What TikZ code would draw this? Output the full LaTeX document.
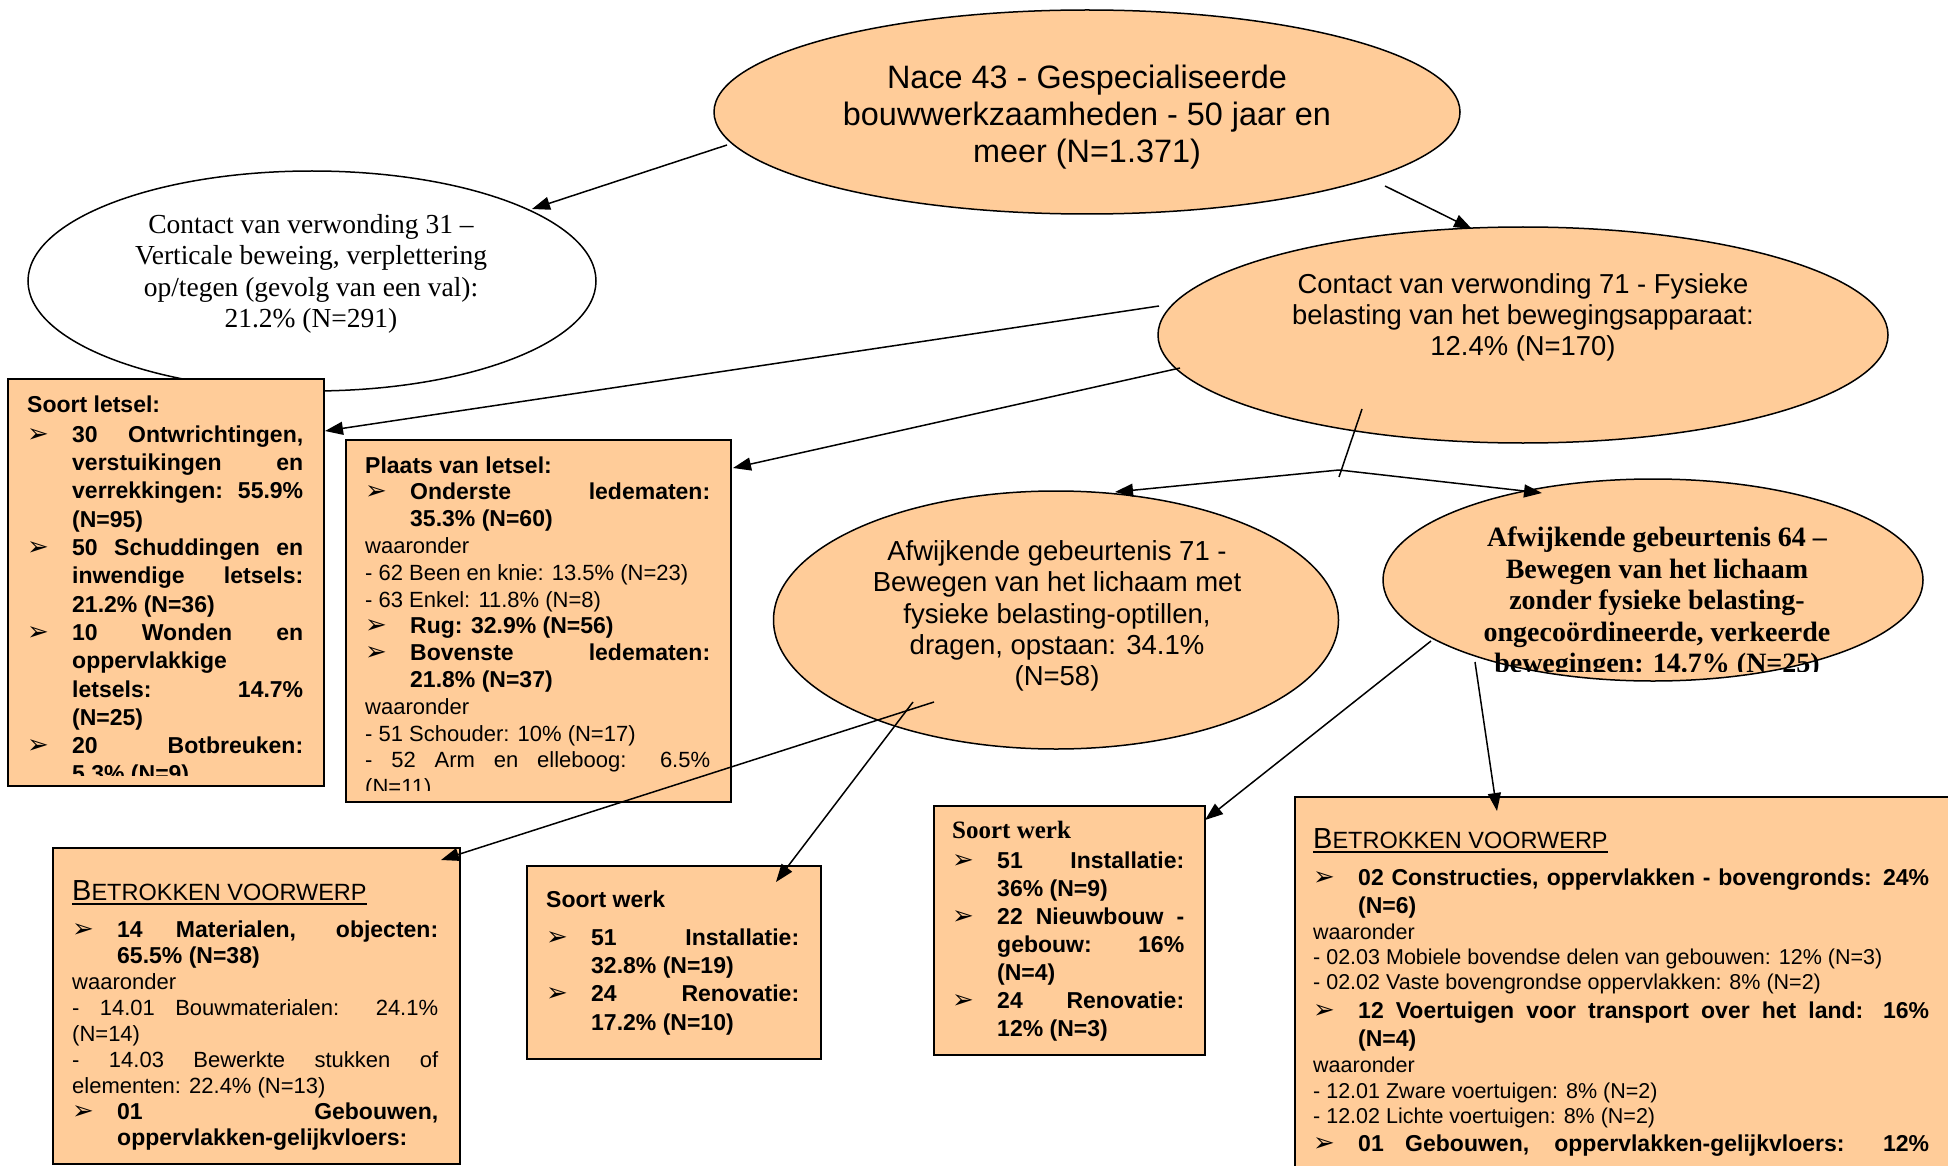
\documentclass[tikz,border=0pt]{standalone}
\usepackage{fontspec}
\setmainfont{Liberation Sans}
\newfontfamily\tms{Liberation Serif}
\newfontfamily\dvs{DejaVu Sans}
\usetikzlibrary{shapes.geometric,arrows.meta}
\definecolor{peach}{HTML}{FFCC99}
\newlength\bind
\setlength\bind{45pt}
\newcommand\bulx{{\dvs\mdseries\fontsize{26}{26}\selectfont ➢}}
\newcommand\xBJ[1]{\hbox to\hsize{\hbox to\bind{\bulx\hfil}#1}}
\newcommand\xBR[1]{\hbox to\hsize{\hbox to\bind{\bulx\hfil}#1\hfil}}
\newcommand\xIJ[1]{\hbox to\hsize{\hskip\bind\relax #1}}
\newcommand\xIR[1]{\hbox to\hsize{\hskip\bind\relax #1\hfil}}
\newcommand\xPJ[1]{\hbox to\hsize{#1}}
\newcommand\xPR[1]{\hbox to\hsize{#1\hfil}}
\newcommand\fBb{\fontsize{23}{23}\bfseries\selectfont}
\newcommand\fRr{\fontsize{22}{22}\mdseries\selectfont}
\newcommand\fRs{\fontsize{21.5}{21.5}\mdseries\selectfont}
\newcommand\mkblk[2]{\vtop{\hsize=#1\relax\lineskiplimit=-\maxdimen\lineskip=0pt #2}}
\newcommand\betrv{\setbox0=\hbox{\mdseries{\fontsize{29}{29}\selectfont B}{\fontsize{23.5}{23.5}\selectfont ETROKKEN VOORWERP}}\rlap{\vrule height -3pt depth 4.5pt width \wd0}\box0}
\tikzset{
  ell/.style={ellipse, draw, line width=1.5pt, fill=peach, inner sep=0pt},
  bx/.style={rectangle, draw, line width=1.5pt, fill=peach, anchor=north west, inner sep=0pt},
  txt/.style={anchor=base west, inner sep=0pt},
  conn/.style={line width=1.5pt, -{Triangle[length=18pt,width=13pt]}},
  plain/.style={line width=1.5pt}
}
\begin{document}
\begin{tikzpicture}[x=1pt,y=-1pt]
\useasboundingbox (0,0) rectangle (1948,1166);
% ellipses
\node[ell, fill=white, minimum width=568pt, minimum height=220pt] (e31) at (312,281) {};
\node[ell, minimum width=746pt, minimum height=204pt] (enace) at (1087,112) {};
\node[ell, minimum width=730pt, minimum height=216pt] (e71) at (1523,335) {};
\node[ell, minimum width=565pt, minimum height=258pt] (a71) at (1056,620) {};
\node[ell, minimum width=540pt, minimum height=202pt] (a64) at (1653,580) {};
% ellipse texts
\node[align=center, font={\fontsize{32.4}{37}\selectfont}] (tnace) at (1087,117) {Nace 43 - Gespecialiseerde\\bouwwerkzaamheden - 50 jaar en\\meer (N=1.371)};
\node[align=center, font={\tms\fontsize{27.5}{31.4}\selectfont}] (t31) at (311,274) {Contact van verwonding 31 –\\Verticale beweing, verplettering\\op/tegen (gevolg van een val):\\21.2\% (N=291)};
\node[align=center, font={\fontsize{27.4}{31}\selectfont}] (t71) at (1523,317) {Contact van verwonding 71 - Fysieke\\belasting van het bewegingsapparaat:\\12.4\% (N=170)};
\node[align=center, font={\fontsize{27.5}{31.4}\selectfont}] (ta71) at (1057,616) {Afwijkende gebeurtenis 71 -\\Bewegen van het lichaam met\\fysieke belasting-optillen,\\dragen, opstaan: 34.1\%\\(N=58)};
\begin{scope}
\clip (1380,500) rectangle (1930,671);
\node[align=center, font={\tms\bfseries\fontsize{28}{31.4}\selectfont}] (ta64) at (1657,603) {Afwijkende gebeurtenis 64 –\\Bewegen van het lichaam\\zonder fysieke belasting-\\ongecoördineerde, verkeerde\\bewegingen: 14.7\% (N=25)};
\end{scope}
% boxes
\node[bx, minimum width=316pt, minimum height=407pt] (sl) at (7,378) {};
\node[bx, minimum width=385pt, minimum height=362pt] (pl) at (345,439) {};
\node[bx, minimum width=407pt, minimum height=316pt] (bvl) at (52,847) {};
\node[bx, minimum width=294pt, minimum height=193pt] (swm) at (526,865) {};
\node[bx, minimum width=271pt, minimum height=249pt] (swr) at (933,805) {};
\node[bx, minimum width=680pt, minimum height=400pt] (bvr) at (1294,796) {};
% box texts
\begin{scope}
\clip (7,378) rectangle (323,775);
\node[txt] (slt) at (27,412) {\fBb\mkblk{276pt}{\baselineskip=28.3pt
\xPR{Soort letsel:}\vskip2pt
\xBJ{30 Ontwrichtingen,}
\xIJ{verstuikingen en}
\xIJ{verrekkingen: 55.9\%}
\xIR{(N=95)}
\xBJ{50 Schuddingen en}
\xIJ{inwendige letsels:}
\xIR{21.2\% (N=36)}
\xBJ{10 Wonden en}
\xIR{oppervlakkige}
\xIJ{letsels: 14.7\%}
\xIR{(N=25)}
\xBJ{20 Botbreuken:}
\xIR{5.3\% (N=9)}}};
\end{scope}
\begin{scope}
\clip (345,439) rectangle (730,790);
\node[txt] (plt) at (365,473) {\fBb\mkblk{345pt}{\baselineskip=26.8pt
\xPR{\fBb Plaats van letsel:}
\xBJ{\fBb Onderste ledematen:}
\xIR{\fBb 35.3\% (N=60)}
\xPR{\fRr waaronder}
\xPR{\fRr - 62 Been en knie: 13.5\% (N=23)}
\xPR{\fRr - 63 Enkel: 11.8\% (N=8)}
\xBR{\fBb Rug: 32.9\% (N=56)}
\xBJ{\fBb Bovenste ledematen:}
\xIR{\fBb 21.8\% (N=37)}
\xPR{\fRr waaronder}
\xPR{\fRr - 51 Schouder: 10\% (N=17)}
\xPJ{\fRr - 52 Arm en elleboog: 6.5\%}
\xPR{\fRr (N=11)}}};
\end{scope}
\node[txt] (bvlt) at (72,900) {\fBb\mkblk{366pt}{\baselineskip=26pt
\xPR{\betrv}\vskip11pt
\xBJ{\fBb 14 Materialen, objecten:}
\xIR{\fBb 65.5\% (N=38)}
\xPR{\fRr waaronder}
\xPJ{\fRr - 14.01 Bouwmaterialen: 24.1\%}
\xPR{\fRr (N=14)}
\xPJ{\fRr - 14.03 Bewerkte stukken of}
\xPR{\fRr elementen: 22.4\% (N=13)}
\xBJ{\fBb 01 Gebouwen,}
\xIR{\fBb oppervlakken-gelijkvloers:}}};
\node[txt] (swmt) at (546,907) {\fBb\mkblk{253pt}{\baselineskip=28.3pt
\xPR{Soort werk}\vskip10pt
\xBJ{51 Installatie:}
\xIR{32.8\% (N=19)}
\xBJ{24 Renovatie:}
\xIR{17.2\% (N=10)}}};
\node[txt] (swrt) at (952,838) {\fBb\mkblk{232pt}{\baselineskip=28pt
\xPR{\tms\bfseries\fontsize{25}{25}\selectfont Soort werk}\vskip2pt
\xBJ{51 Installatie:}
\xIR{36\% (N=9)}
\xBJ{22 Nieuwbouw -}
\xIJ{gebouw: 16\%}
\xIR{(N=4)}
\xBJ{24 Renovatie:}
\xIR{12\% (N=3)}}};
\node[txt] (bvrt) at (1313,848) {\fBb\mkblk{616pt}{\baselineskip=26pt
\xPR{\betrv}
\baselineskip=37pt \xBJ{\fBb 02 Constructies, oppervlakken - bovengronds: 24\%}
\baselineskip=28pt \xIR{\fBb (N=6)}
\baselineskip=26pt \xPR{\fRs waaronder}
\baselineskip=25pt \xPR{\fRs - 02.03 Mobiele bovendse delen van gebouwen: 12\% (N=3)}
\xPR{\fRs - 02.02 Vaste bovengrondse oppervlakken: 8\% (N=2)}
\baselineskip=29pt \xBJ{\fBb 12 Voertuigen voor transport over het land: 16\%}
\baselineskip=28pt \xIR{\fBb (N=4)}
\baselineskip=26pt \xPR{\fRs waaronder}
\xPR{\fRs - 12.01 Zware voertuigen: 8\% (N=2)}
\baselineskip=25pt \xPR{\fRs - 12.02 Lichte voertuigen: 8\% (N=2)}
\baselineskip=28pt \xBJ{\fBb 01 Gebouwen, oppervlakken-gelijkvloers: 12\%}}};
% connector end points
\coordinate (p1) at (727,145);   \coordinate (q1) at (532,209);
\coordinate (p2) at (1385,186);  \coordinate (q2) at (1472,229);
\coordinate (p3) at (1159,306);  \coordinate (q3) at (325,431);
\coordinate (p4) at (1180,368);  \coordinate (q4) at (733,468);
\coordinate (p5) at (1362,409);  \coordinate (r5) at (1339,477);
\coordinate (j5) at (1339,470);
\coordinate (q5a) at (1115,492); \coordinate (q5b) at (1542,493);
\coordinate (p7) at (934,702);   \coordinate (q7) at (441,860);
\coordinate (p8) at (913,702);   \coordinate (q8) at (776,882);
\coordinate (p9) at (1431,641);  \coordinate (q9) at (1205,820);
\coordinate (p10) at (1475,662); \coordinate (q10) at (1497,811);
% connectors
\draw[conn] (p1) -- (q1);
\draw[conn] (p2) -- (q2);
\draw[conn] (p3) -- (q3);
\draw[conn] (p4) -- (q4);
\draw[plain] (p5) -- (r5);
\draw[conn] (j5) -- (q5a);
\draw[conn] (j5) -- (q5b);
\draw[conn] (p7) -- (q7);
\draw[conn] (p8) -- (q8);
\draw[conn] (p9) -- (q9);
\draw[conn] (p10) -- (q10);
\end{tikzpicture}
\end{document}
